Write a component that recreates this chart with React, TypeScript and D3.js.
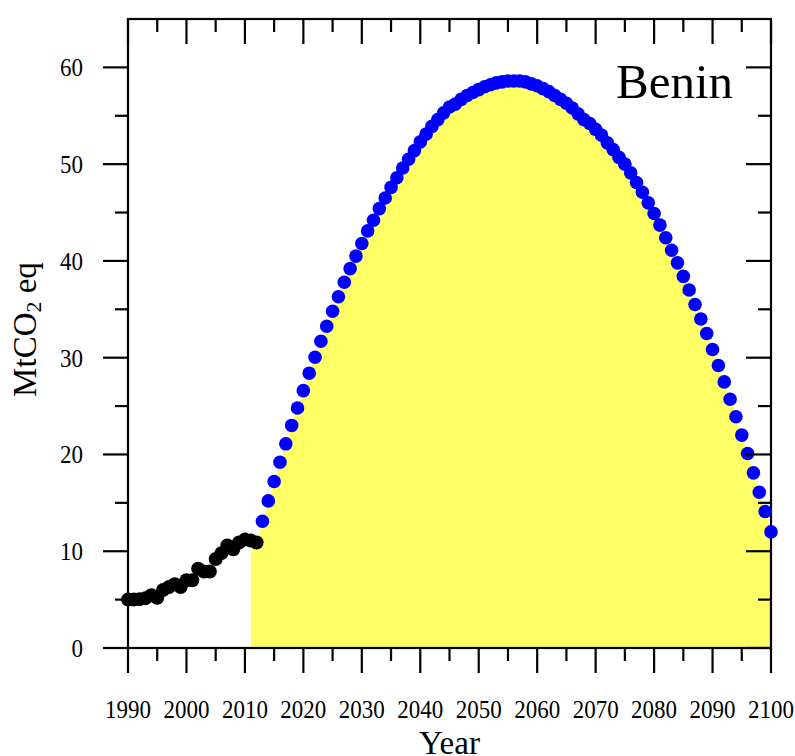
import React, { useEffect, useRef } from "react";
import * as d3 from "d3";

// historical emissions (black), 1990-2012
const histYears = d3.range(1990, 2013);
const histValues = [
  5.0, 5.0, 5.05, 5.15, 5.45, 5.2, 6.0, 6.3, 6.6, 6.3, 7.0, 7.0, 8.2, 7.9, 7.9,
  9.2, 9.8, 10.6, 10.2, 10.9, 11.2, 11.1, 10.9,
];

// projection (blue), 2013-2100
const projYears = d3.range(2013, 2101);
const projValues = [
  13.1, 15.2, 17.2, 19.2, 21.1, 23.0, 24.8, 26.6, 28.4, 30.05, 31.7, 33.25,
  34.8, 36.3, 37.8, 39.2, 40.5, 41.8, 43.1, 44.2, 45.4, 46.5,
  47.6, 48.6, 49.6, 50.5, 51.4, 52.3, 53.1, 53.9, 54.6, 55.3, 55.9,
  56.2, 56.7, 57.1, 57.4, 57.7, 58.0, 58.2, 58.4, 58.5, 58.6, 58.6, 58.6,
  58.5, 58.3, 58.1, 57.8, 57.5, 57.1, 56.7, 56.3, 55.8, 55.2, 54.6, 54.2,
  53.6, 53.0, 52.2, 51.5, 50.7, 50.0, 49.1, 48.1, 47.1, 46.0,
  44.9, 43.7, 42.4, 41.1, 39.8, 38.4, 37.0, 35.5, 34.0, 32.5, 30.85, 29.2,
  27.5, 25.7, 23.9, 22.0, 20.1, 18.1, 16.1, 14.1, 12.0,
];

const xMajorTicks = d3.range(1990, 2101, 10);
const xMinorTicks = d3.range(1995, 2100, 10);
const yMajorTicks = d3.range(0, 61, 10);
const yMinorTicks = d3.range(5, 60, 10);
const areaStartYear = 2011;

const W = 795;
const H = 756;
const FONT = "'Liberation Serif', 'Times New Roman', serif";

const App: React.FC = () => {
  const svgRef = useRef<SVGSVGElement | null>(null);

  useEffect(() => {
    if (!svgRef.current) return;
    const svg = d3.select(svgRef.current);
    svg.selectAll("*").remove();

    const x = d3.scaleLinear().domain([1990, 2100]).range([128, 771]);
    const y = d3.scaleLinear().domain([0, 65]).range([648, 19]);
    const [x0, x1] = x.range();
    const [y0, y1] = y.range();
    const major = 25;
    const minor = 13;

    // yellow area under the projection
    const areaData = [
      ...histYears.map((yr, i) => ({ yr, v: histValues[i] })),
      ...projYears.map((yr, i) => ({ yr, v: projValues[i] })),
    ].filter(d => d.yr >= areaStartYear);

    const area = d3.area<{ yr: number; v: number }>()
      .x(d => x(d.yr))
      .y0(y(0))
      .y1(d => y(d.v));

    svg.append("path")
      .attr("d", area(areaData) || "")
      .attr("fill", "#ffff66");

    // frame
    svg.append("rect")
      .attr("x", x0)
      .attr("y", y1)
      .attr("width", x1 - x0)
      .attr("height", y0 - y1)
      .attr("fill", "none")
      .attr("stroke", "black")
      .attr("stroke-width", 2.2);

    // points
    svg.append("g")
      .selectAll("circle")
      .data(histYears)
      .join("circle")
      .attr("cx", d => x(d))
      .attr("cy", (d, i) => y(histValues[i]))
      .attr("r", 7)
      .attr("fill", "black");

    svg.append("g")
      .selectAll("circle")
      .data(projYears)
      .join("circle")
      .attr("cx", d => x(d))
      .attr("cy", (d, i) => y(projValues[i]))
      .attr("r", 6.8)
      .attr("fill", "#0000ff");

    // ticks
    const ticks = svg.append("g").attr("stroke", "black").attr("stroke-width", 2.2);
    xMajorTicks.forEach(t => {
      ticks.append("line").attr("x1", x(t)).attr("x2", x(t)).attr("y1", y0).attr("y2", y0 + major);
      ticks.append("line").attr("x1", x(t)).attr("x2", x(t)).attr("y1", y1).attr("y2", y1 + major);
    });
    xMinorTicks.forEach(t => {
      ticks.append("line").attr("x1", x(t)).attr("x2", x(t)).attr("y1", y0).attr("y2", y0 + minor);
      ticks.append("line").attr("x1", x(t)).attr("x2", x(t)).attr("y1", y1).attr("y2", y1 + minor);
    });
    yMajorTicks.forEach(t => {
      ticks.append("line").attr("x1", x0 - major).attr("x2", x0).attr("y1", y(t)).attr("y2", y(t));
      ticks.append("line").attr("x1", x1 - major).attr("x2", x1).attr("y1", y(t)).attr("y2", y(t));
    });
    yMinorTicks.forEach(t => {
      ticks.append("line").attr("x1", x0 - minor).attr("x2", x0).attr("y1", y(t)).attr("y2", y(t));
      ticks.append("line").attr("x1", x1 - minor).attr("x2", x1).attr("y1", y(t)).attr("y2", y(t));
    });

    // tick labels
    svg.append("g")
      .selectAll("text")
      .data(xMajorTicks)
      .join("text")
      .attr("transform", d => `translate(${x(d)},718) scale(0.92,1)`)
      .attr("text-anchor", "middle")
      .attr("font-family", FONT)
      .attr("font-size", 25)
      .text(d => d);

    svg.append("g")
      .selectAll("text")
      .data(yMajorTicks)
      .join("text")
      .attr("transform", d => `translate(83,${y(d) + 9}) scale(0.92,1)`)
      .attr("text-anchor", "end")
      .attr("font-family", FONT)
      .attr("font-size", 25)
      .text(d => d);

    // axis titles
    svg.append("text")
      .attr("x", (x0 + x1) / 2)
      .attr("y", 754)
      .attr("text-anchor", "middle")
      .attr("font-family", FONT)
      .attr("font-size", 33)
      .text("Year");

    const yt = svg.append("text")
      .attr("transform", `translate(36,${(y0 + y1) / 2 - 4}) rotate(-90)`)
      .attr("text-anchor", "middle")
      .attr("font-family", FONT)
      .attr("font-size", 33);
    yt.append("tspan").text("MtCO");
    yt.append("tspan").attr("font-size", 22).attr("dy", 5).text("2");
    yt.append("tspan").attr("dy", -5).text(" eq");

    svg.append("text")
      .attr("x", 733)
      .attr("y", 98)
      .attr("text-anchor", "end")
      .attr("font-family", FONT)
      .attr("font-size", 49)
      .text("Benin");
  }, []);

  return (
    <svg
      ref={svgRef}
      width={W}
      height={H}
      style={{ position: "absolute", left: 0, top: 0, background: "white" }}
    />
  );
};

export default App;
